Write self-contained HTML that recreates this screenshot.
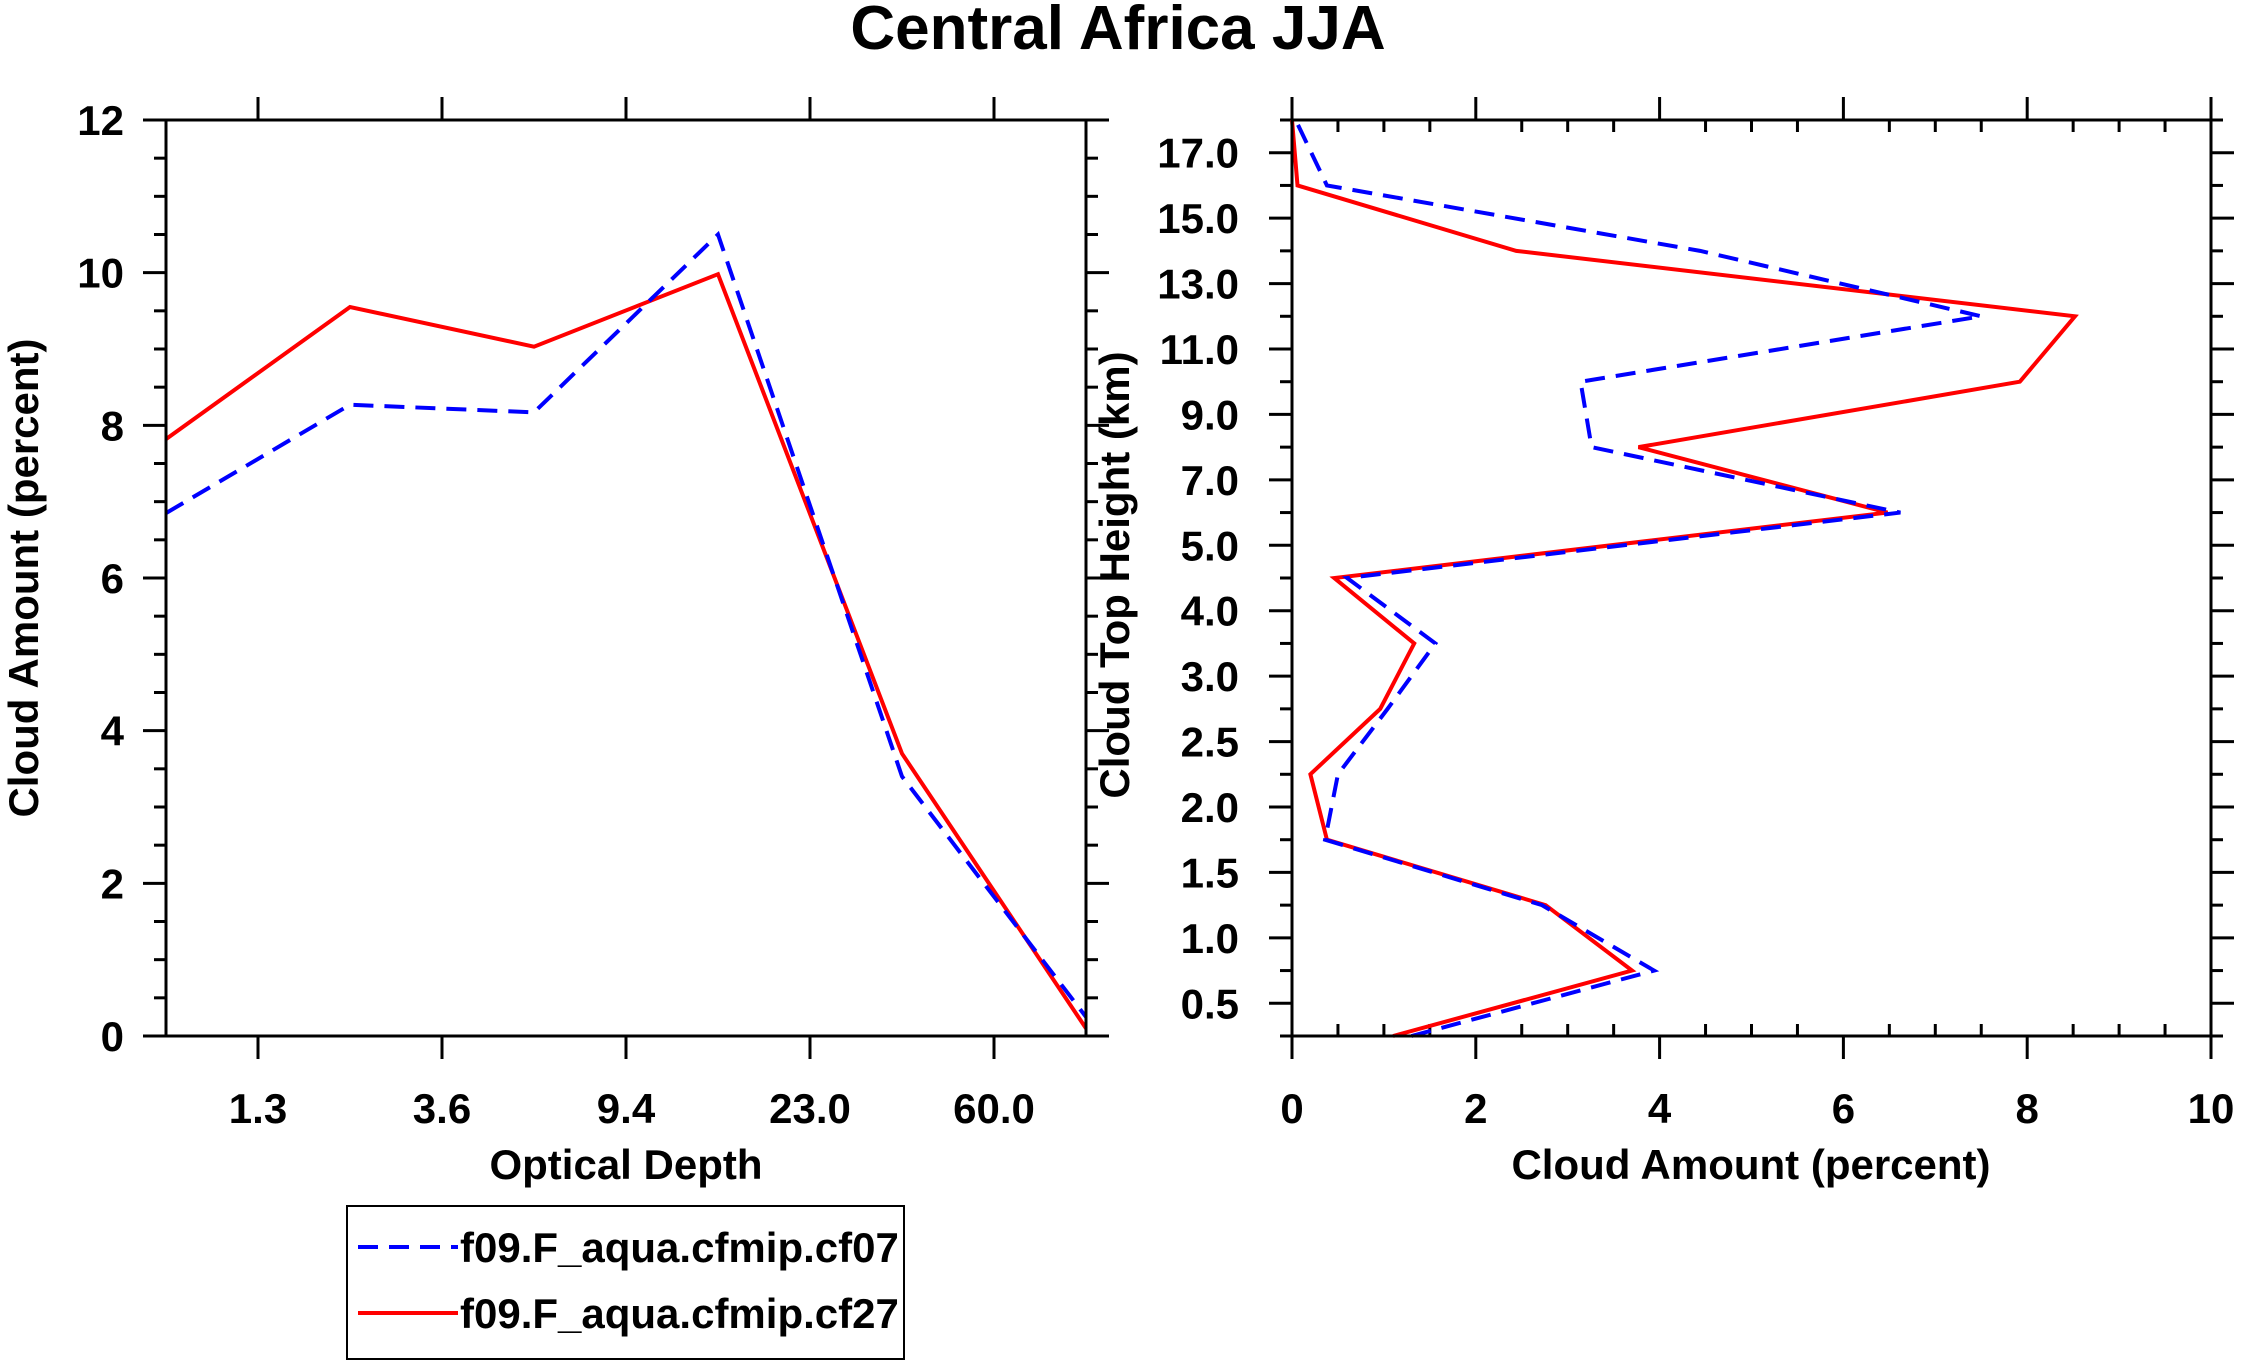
<!DOCTYPE html>
<html><head><meta charset="utf-8"><style>
html,body{margin:0;padding:0;background:#fff;}
svg{display:block;font-family:"Liberation Sans",Arial,sans-serif;font-weight:bold;}
</style></head><body>
<svg id="chart" width="2241" height="1367" viewBox="0 0 2241 1367" xmlns="http://www.w3.org/2000/svg">
<text x="1118" y="49" font-size="62" text-anchor="middle">Central Africa JJA</text>
<g id="left"></g>
<g id="right"></g>
<g>
<rect x="347" y="1206" width="557" height="153" fill="none" stroke="#000" stroke-width="2"/>
<line x1="358" y1="1247" x2="458" y2="1247" stroke="#0000ff" stroke-width="4" stroke-dasharray="20,11"/>
<text x="460" y="1262" font-size="42">f09.F_aqua.cfmip.cf07</text>
<line x1="358" y1="1313" x2="458" y2="1313" stroke="#ff0000" stroke-width="4"/>
<text x="460" y="1328" font-size="42">f09.F_aqua.cfmip.cf27</text>
</g>
</svg>
<script>
// Left panel data
const tauTickLabels = ["1.3","3.6","9.4","23.0","60.0"];
const tauYTicks = [0,2,4,6,8,10,12];
const tauCf07 = [6.85, 8.27, 8.17, 10.5, 3.4, 0.25];
const tauCf27 = [7.82, 9.55, 9.03, 9.98, 3.7, 0.1];
// Right panel data
const cthTickLabels = ["0.5","1.0","1.5","2.0","2.5","3.0","4.0","5.0","7.0","9.0","11.0","13.0","15.0","17.0"];
const cthXTicks = [0,2,4,6,8,10];
const cthCf07 = [1.3, 3.94, 2.72, 0.36, 0.5, 1.04, 1.56, 0.6, 6.62, 3.26, 3.14, 7.5, 4.44, 0.38, 0.04];
const cthCf27 = [1.1, 3.7, 2.76, 0.38, 0.2, 0.96, 1.33, 0.46, 6.48, 3.77, 7.92, 8.52, 2.44, 0.06, 0.0];

const NS="http://www.w3.org/2000/svg";
function mk(parent,tag,attrs){const e=document.createElementNS(NS,tag);for(const k in attrs)e.setAttribute(k,attrs[k]);parent.appendChild(e);return e;}

// LEFT
const L=document.getElementById('left');
const lx0=166,lx1=1086,ly0=1036,ly1=120;
const lxs=i=>lx0+(lx1-lx0)*i/5;
const lys=v=>ly0+(ly1-ly0)*v/12;
for(let v=0;v<=12;v+=0.5){
  const major=v%2===0;const len=major?23:12;const y=lys(v);
  let t=mk(L,'line',{x1:lx0-len,y1:y,x2:lx0,y2:y,stroke:'#000','stroke-width':3});
  
  
  t=mk(L,'line',{x1:lx1,y1:y,x2:lx1+len,y2:y,stroke:'#000','stroke-width':3});
  
  
}
tauYTicks.forEach(v=>{
  const t=mk(L,'text',{x:lx0-42,y:lys(v)+15,'font-size':42,'text-anchor':'end'});t.textContent=v;
  
  
});
tauTickLabels.forEach((lab,i)=>{
  const x=lxs(i+0.5);
  let t=mk(L,'line',{x1:x,y1:ly0,x2:x,y2:ly0+23,stroke:'#000','stroke-width':3});
  
  
  t=mk(L,'line',{x1:x,y1:ly1-23,x2:x,y2:ly1,stroke:'#000','stroke-width':3});
  
  
  t=mk(L,'text',{x:x,y:1123,'font-size':42,'text-anchor':'middle'});t.textContent=lab;
  
  
});
function poly(parent,pts,color,dash,name){
  const p=mk(parent,'polyline',{points:pts.map(p=>p.join(',')).join(' '),fill:'none',stroke:color,'stroke-width':4,'stroke-linejoin':'miter'});
  if(dash)p.setAttribute('stroke-dasharray','20,11');
  
  
}
poly(L,tauCf27.map((v,i)=>[lxs(i),lys(v)]),'#ff0000',false,'left-line-cf27');
poly(L,tauCf07.map((v,i)=>[lxs(i),lys(v)]),'#0000ff',true,'left-line-cf07');
let fr=mk(L,'rect',{x:lx0,y:ly1,width:lx1-lx0,height:ly0-ly1,fill:'none',stroke:'#000','stroke-width':3});


let tt=mk(L,'text',{x:626,y:1179,'font-size':42,'text-anchor':'middle'});tt.textContent='Optical Depth';


tt=mk(L,'text',{x:0,y:0,'font-size':42,'text-anchor':'middle',transform:'translate(38,578) rotate(-90)'});tt.textContent='Cloud Amount (percent)';



// RIGHT
const R=document.getElementById('right');
const rx0=1292,rx1=2211,ry0=1036,ry1=120;
const rxs=v=>rx0+(rx1-rx0)*v/10;
const rys=i=>ry0+(ry1-ry0)*i/14;
for(let v=0;v<=10.001;v+=0.5){
  const major=Math.abs(v%2)<0.01;const x=rxs(v);
  let t;
  if(major){
    t=mk(R,'line',{x1:x,y1:ry0,x2:x,y2:ry0+23,stroke:'#000','stroke-width':3});
    
    
    t=mk(R,'line',{x1:x,y1:ry1-23,x2:x,y2:ry1,stroke:'#000','stroke-width':3});
  } else {
    t=mk(R,'line',{x1:x,y1:ry0,x2:x,y2:ry0-12,stroke:'#000','stroke-width':3});
    
    
    t=mk(R,'line',{x1:x,y1:ry1,x2:x,y2:ry1+12,stroke:'#000','stroke-width':3});
  }
  
  
}
cthXTicks.forEach(v=>{
  const t=mk(R,'text',{x:rxs(v),y:1123,'font-size':42,'text-anchor':'middle'});t.textContent=v;
  
  
});
for(let i=0;i<=14;i++){
  const y=rys(i);
  let t=mk(R,'line',{x1:rx0-12,y1:y,x2:rx0,y2:y,stroke:'#000','stroke-width':3});
  
  
  t=mk(R,'line',{x1:rx1,y1:y,x2:rx1+12,y2:y,stroke:'#000','stroke-width':3});
  
  
}
cthTickLabels.forEach((lab,i)=>{
  const y=rys(i+0.5);
  let t=mk(R,'line',{x1:rx0-23,y1:y,x2:rx0,y2:y,stroke:'#000','stroke-width':3});
  
  
  t=mk(R,'line',{x1:rx1,y1:y,x2:rx1+23,y2:y,stroke:'#000','stroke-width':3});
  
  
  t=mk(R,'text',{x:rx0-53,y:y+15,'font-size':42,'text-anchor':'end'});t.textContent=lab;
  
  
});
poly(R,cthCf27.map((v,i)=>[rxs(v),rys(i)]),'#ff0000',false,'right-line-cf27');
poly(R,cthCf07.map((v,i)=>[rxs(v),rys(i)]),'#0000ff',true,'right-line-cf07');
fr=mk(R,'rect',{x:rx0,y:ry1,width:rx1-rx0,height:ry0-ry1,fill:'none',stroke:'#000','stroke-width':3});


tt=mk(R,'text',{x:1751,y:1179,'font-size':42,'text-anchor':'middle'});tt.textContent='Cloud Amount (percent)';


tt=mk(R,'text',{x:0,y:0,'font-size':42,'text-anchor':'middle',transform:'translate(1129,575) rotate(-90)'});tt.textContent='Cloud Top Height (km)';


</script>
</body></html>
